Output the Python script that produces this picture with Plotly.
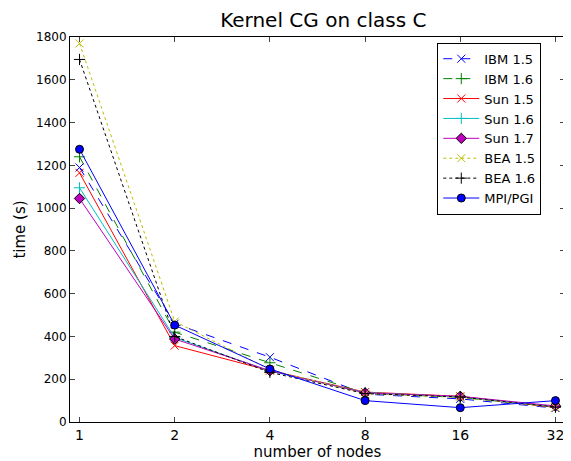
import plotly.graph_objects as go

nodes = [1, 2, 4, 8, 16, 32]
tick_labels = ["1", "2", "4", "8", "16", "32"]

ibm15 = [1190, 460, 303, 130, 108, 65]
ibm16 = [1240, 420, 277, 135, 115, 70]
sun15 = [1165, 357, 240, 140, 120, 68]
sun16 = [1095, 395, 238, 138, 118, 72]
sun17 = [1045, 388, 240, 136, 120, 75]
bea15 = [1770, 470, 245, 132, 115, 68]
bea16 = [1695, 400, 232, 133, 117, 70]
mpi = [1275, 453, 248, 100, 67, 100]

series = [
    ("IBM 1.5", ibm15, "#0000ff", "dash", "x-thin-open", 8, None),
    ("IBM 1.6", ibm16, "#008000", "dash", "cross-thin-open", 8, None),
    ("Sun 1.5", sun15, "#ff0000", "solid", "x-thin-open", 8, None),
    ("Sun 1.6", sun16, "#00bfbf", "solid", "cross-thin-open", 8, None),
    ("Sun 1.7", sun17, "#bf00bf", "solid", "diamond", 8, "black"),
    ("BEA 1.5", bea15, "#bfbf00", "dot", "x-thin-open", 8, None),
    ("BEA 1.6", bea16, "#000000", "dot", "cross-thin-open", 8, None),
    ("MPI/PGI", mpi, "#0000ff", "solid", "circle", 8, "black"),
]

fig = go.Figure()
for name, vals, color, dash, sym, size, mline in series:
    marker = dict(symbol=sym, size=size, color=color,
                  line=dict(width=1, color=mline if mline else color))
    fig.add_trace(go.Scatter(
        x=nodes, y=vals, name=name, mode="lines+markers",
        line=dict(color=color, width=1, dash=dash),
        marker=marker,
    ))

font = "DejaVu Sans, sans-serif"
# page body has an 8px margin; compensate so the plot lands where the reference has it
fig.update_layout(
    width=563, height=453,
    margin=dict(l=62, r=6, t=29, b=39),
    paper_bgcolor="white", plot_bgcolor="white",
    font=dict(family=font, size=12, color="black"),
    title=dict(text="Kernel CG on class C", x=0.56, xanchor="center",
               y=0.973, yanchor="middle", font=dict(size=20)),
    showlegend=True,
    legend=dict(x=0.742, y=0.985, xanchor="left", yanchor="top",
                bordercolor="black", borderwidth=1, bgcolor="white",
                font=dict(size=13), tracegroupgap=0, itemwidth=36),
)
fig.update_xaxes(
    type="log", range=[-0.1 * 0.30103, 5.1 * 0.30103],
    tickvals=nodes, ticktext=tick_labels,
    ticks="inside", ticklen=5, mirror="allticks",
    showline=True, linecolor="black", linewidth=1,
    showgrid=False, zeroline=False,
    tickfont=dict(size=14),
    title=dict(text="number of nodes", font=dict(size=15), standoff=0),
)
fig.update_yaxes(
    range=[0, 1800], dtick=200,
    ticks="inside", ticklen=5, mirror="allticks",
    showline=True, linecolor="black", linewidth=1,
    showgrid=False, zeroline=False,
    tickfont=dict(size=12),
    title=dict(text="time (s)", font=dict(size=15), standoff=6),
)

fig.write_html("out.html")
